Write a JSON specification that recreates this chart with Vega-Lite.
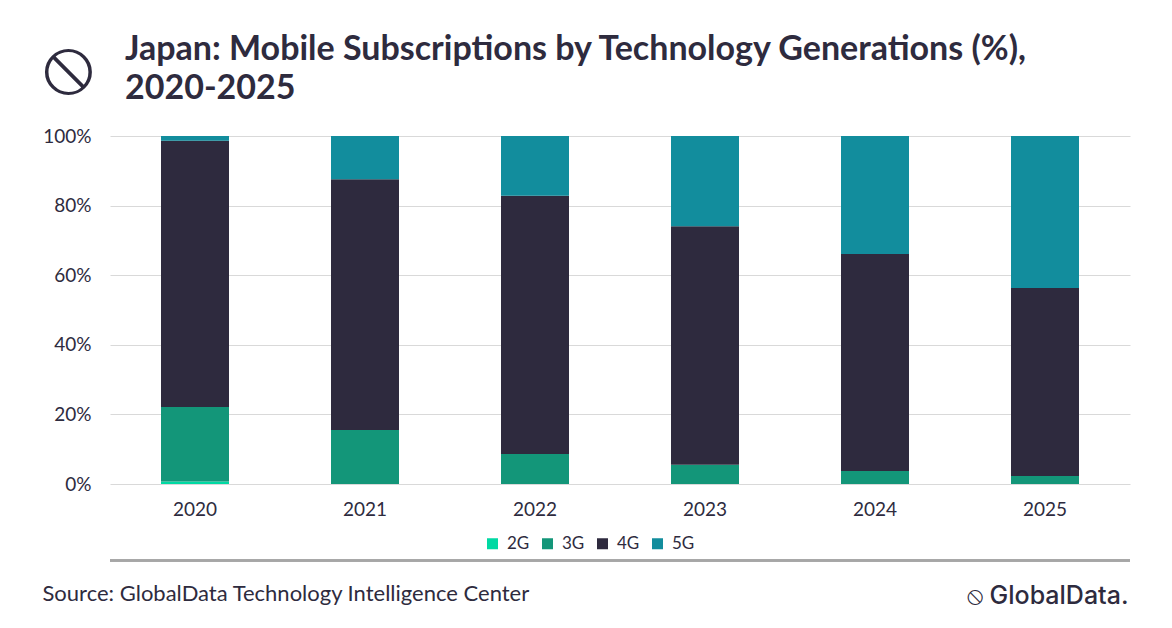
{
  "$schema": "https://vega.github.io/schema/vega-lite/v6.json",
  "width": 1020,
  "height": 348,
  "autosize": {"type": "none"},
  "padding": {"left": 110, "top": 136, "right": 42, "bottom": 144},
  "background": "white",
  "title": {
    "text": ["Japan: Mobile Subscriptions by Technology Generations (%),", "2020-2025"],
    "anchor": "start",
    "frame": "group",
    "font": "Lato",
    "fontSize": 34,
    "fontWeight": "bold",
    "color": "#2e2b3e",
    "lineHeight": 39,
    "dx": 15,
    "offset": -77
  },
  "data": {
    "values": [
      {"Year": "2020", "Tech": "2G", "Share": 0.7},
      {"Year": "2020", "Tech": "3G", "Share": 21.4},
      {"Year": "2020", "Tech": "4G", "Share": 76.5},
      {"Year": "2020", "Tech": "5G", "Share": 1.4},
      {"Year": "2021", "Tech": "2G", "Share": 0},
      {"Year": "2021", "Tech": "3G", "Share": 15.5},
      {"Year": "2021", "Tech": "4G", "Share": 72.1},
      {"Year": "2021", "Tech": "5G", "Share": 12.4},
      {"Year": "2022", "Tech": "2G", "Share": 0},
      {"Year": "2022", "Tech": "3G", "Share": 8.6},
      {"Year": "2022", "Tech": "4G", "Share": 74.2},
      {"Year": "2022", "Tech": "5G", "Share": 17.2},
      {"Year": "2023", "Tech": "2G", "Share": 0},
      {"Year": "2023", "Tech": "3G", "Share": 5.5},
      {"Year": "2023", "Tech": "4G", "Share": 68.6},
      {"Year": "2023", "Tech": "5G", "Share": 25.9},
      {"Year": "2024", "Tech": "2G", "Share": 0},
      {"Year": "2024", "Tech": "3G", "Share": 3.7},
      {"Year": "2024", "Tech": "4G", "Share": 62.4},
      {"Year": "2024", "Tech": "5G", "Share": 33.9},
      {"Year": "2025", "Tech": "2G", "Share": 0},
      {"Year": "2025", "Tech": "3G", "Share": 2.3},
      {"Year": "2025", "Tech": "4G", "Share": 54.0},
      {"Year": "2025", "Tech": "5G", "Share": 43.7}
    ]
  },
  "layer": [
    {
      "mark": {"type": "bar"},
      "encoding": {
        "x": {
          "field": "Year",
          "type": "ordinal",
          "scale": {"paddingInner": 0.6, "paddingOuter": 0.3},
          "axis": {
            "labelAngle": 0,
            "labelFont": "Lato",
            "labelFontSize": 19,
            "labelColor": "#2e2b3e",
            "labelPadding": 16,
            "ticks": false,
            "domain": false,
            "title": "Source: GlobalData Technology Intelligence Center",
            "titleFont": "Lato",
            "titleFontSize": 22,
            "titleFontWeight": "normal",
            "titleColor": "#2e2b3e",
            "titleAlign": "left",
            "titleBaseline": "middle",
            "titleAnchor": "start",
            "titleX": -68,
            "titleY": 109
          }
        },
        "y": {
          "field": "Share",
          "type": "quantitative",
          "stack": "zero",
          "scale": {"domain": [0, 100]},
          "axis": {
            "values": [0, 20, 40, 60, 80, 100],
            "labelExpr": "datum.value + '%'",
            "labelFont": "Lato",
            "labelFontSize": 19,
            "labelColor": "#2e2b3e",
            "labelPadding": 19,
            "ticks": false,
            "domain": false,
            "gridColor": "#d9d9d9",
            "title": "⦸ GlobalData.",
            "titleAngle": 0,
            "titleFont": "Inter",
            "titleFontSize": 25,
            "titleFontWeight": 500,
            "titleColor": "#2e2b3e",
            "titleAlign": "right",
            "titleBaseline": "middle",
            "titleX": 1018,
            "titleY": 459
          }
        },
        "color": {
          "field": "Tech",
          "type": "nominal",
          "scale": {
            "domain": ["2G", "3G", "4G", "5G"],
            "range": ["#00d9a3", "#139679", "#2e2a3e", "#128d9d"]
          },
          "legend": {
            "title": null,
            "orient": "none",
            "legendX": 374,
            "legendY": 399,
            "direction": "horizontal",
            "symbolType": "square",
            "symbolSize": 121,
            "symbolStrokeWidth": 0,
            "labelFont": "Lato",
            "labelFontSize": 17,
            "labelColor": "#2e2b3e",
            "labelOffset": 6,
            "columnPadding": 9,
            "padding": 0
          }
        },
        "order": {"field": "Tech", "type": "nominal", "sort": "ascending"}
      }
    },
    {
      "mark": {"type": "rule", "color": "#a6a6a6", "strokeWidth": 1.5, "clip": false},
      "encoding": {
        "y": {
          "datum": -22,
          "type": "quantitative",
          "scale": {"domain": [0, 100]},
          "axis": {
            "orient": "right",
            "labels": false,
            "ticks": false,
            "domain": false,
            "grid": false,
            "title": "⦸",
            "titleAngle": 0,
            "titleFont": "DejaVu Sans",
            "titleFontSize": 78,
            "titleFontWeight": "normal",
            "titleColor": "#2e2b3e",
            "titleAlign": "center",
            "titleBaseline": "middle",
            "titleX": -1062,
            "titleY": -68
          }
        }
      }
    }
  ],
  "resolve": {"scale": {"y": "independent"}},
  "config": {
    "view": {"stroke": null}
  }
}
